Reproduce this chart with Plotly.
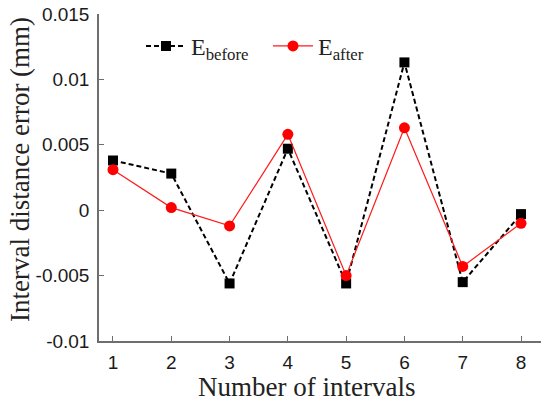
import plotly.graph_objects as go

# Interval index and measured distance errors (mm)
intervals = [1, 2, 3, 4, 5, 6, 7, 8]
e_before = [0.0038, 0.0028, -0.0056, 0.0047, -0.0056, 0.0113, -0.0055, -0.0003]
e_after = [0.0031, 0.0002, -0.0012, 0.0058, -0.0050, 0.0063, -0.0043, -0.0010]

y_ticks = [-0.01, -0.005, 0, 0.005, 0.01, 0.015]
y_tick_text = ["-0.01", "-0.005", "0", "0.005", "0.01", "0.015"]

axis_grey = "#6e6e6e"
tick_font = dict(family="Liberation Sans, Arial, sans-serif", size=19, color="#1a1a1a")
serif = "Liberation Serif, Times New Roman, serif"

X_RANGE = [0.76, 8.343]
Y_RANGE = [-0.01, 0.015]

fig = go.Figure()

fig.add_trace(go.Scatter(
    x=intervals, y=e_before, mode="lines+markers",
    name="E<sub>before</sub>",
    line=dict(color="black", width=2, dash="5px,3px"),
    marker=dict(symbol="square", size=10, color="black"),
))
fig.add_trace(go.Scatter(
    x=intervals, y=e_after, mode="lines+markers",
    name="E<sub>after</sub>",
    line=dict(color="#ff1a1a", width=1.2),
    marker=dict(symbol="circle", size=11, color="#ff0000"),
))

fig.update_layout(
    width=541, height=402,
    margin=dict(l=99, r=0, t=14, b=61),
    plot_bgcolor="white", paper_bgcolor="white",
    showlegend=True,
    legend=dict(
        orientation="h", x=0.095, y=0.97, xanchor="left", yanchor="top",
        font=dict(family=serif, size=24, color="#222"),
        bgcolor="rgba(0,0,0,0)", itemwidth=40, tracegroupgap=0,
        entrywidth=72, entrywidthmode="pixels",
    ),
    xaxis=dict(
        range=X_RANGE, tickvals=intervals, ticks="inside", ticklen=5,
        tickcolor=axis_grey, tickwidth=1.2,
        showline=True, linecolor=axis_grey, linewidth=1.5,
        showgrid=False, zeroline=False, tickfont=tick_font,
        ticklabelstandoff=3,
    ),
    yaxis=dict(
        range=Y_RANGE, tickvals=y_ticks, ticktext=y_tick_text,
        ticks="inside", ticklen=5, tickcolor=axis_grey, tickwidth=1.2,
        showline=True, linecolor=axis_grey, linewidth=1.5,
        showgrid=False, zeroline=False, tickfont=tick_font,
        ticklabelstandoff=4,
    ),
    # top frame with ticks at even intervals
    xaxis2=dict(
        overlaying="x", side="top", range=X_RANGE, tickvals=[2, 4, 6, 8],
        ticks="inside", ticklen=5, tickcolor=axis_grey, tickwidth=1.2,
        showline=True, linecolor=axis_grey, linewidth=1.5,
        showticklabels=False, showgrid=False, zeroline=False,
    ),
    # right-hand tick marks
    yaxis2=dict(
        overlaying="y", side="right", range=Y_RANGE, tickvals=y_ticks,
        ticks="inside", ticklen=4, tickcolor=axis_grey, tickwidth=1.2,
        showline=False, showticklabels=False, showgrid=False, zeroline=False,
    ),
    annotations=[
        dict(text="Number of intervals", xref="paper", yref="paper",
             x=(306 - 99) / 442, y=(341 - 387) / 327, xanchor="center", yanchor="middle",
             showarrow=False, font=dict(family=serif, size=27, color="#222")),
        dict(text="Interval distance error (mm)", xref="paper", yref="paper",
             x=(20 - 99) / 442, y=(341 - 170) / 327, xanchor="center", yanchor="middle",
             textangle=-90, showarrow=False,
             font=dict(family=serif, size=27, color="#222")),
    ],
)

fig.write_html("out.html")
